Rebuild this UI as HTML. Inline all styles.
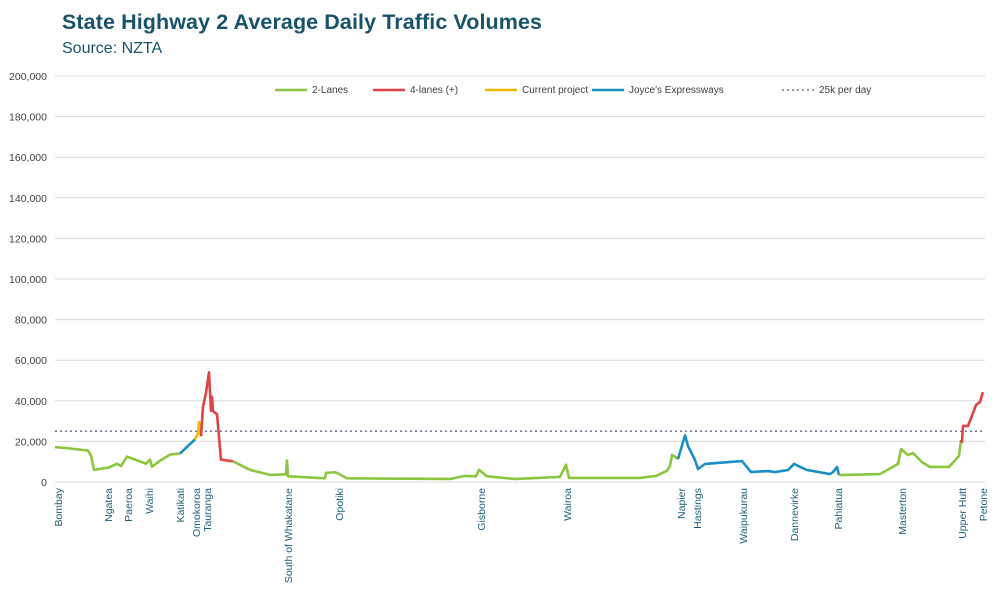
<!DOCTYPE html>
<html><head><meta charset="utf-8"><style>
body{margin:0;background:#fff;font-family:"Liberation Sans",sans-serif;}
svg text{font-family:"Liberation Sans",sans-serif;}
</style></head><body>
<svg id="c" width="1000" height="600">
<text x="62" y="29" font-size="21.5" font-weight="bold" fill="#17536b" textLength="480">State Highway 2 Average Daily Traffic Volumes</text>
<text x="62" y="53" font-size="16" fill="#17536b">Source: NZTA</text>
<g id="grid"></g><g id="lines"></g><g id="xl"></g><g id="legend"></g>
</svg>
<script>
const yTicks=[0,20000,40000,60000,80000,100000,120000,140000,160000,180000,200000];
const threshold=25000;
const townNames=["Bombay","Ngatea","Paeroa","Waihi","Katikati","Omokoroa","Tauranga","South of Whakatane","Opotiki","Gisborne","Wairoa","Napier","Hastings","Waipukurau","Dannevirke","Pahiatua","Masterton","Upper Hutt","Petone"];
const townPos=[3,53,73,94,125,141,152,233,284,426,512,626,642,688,739,783,847,907,928];
const twoLanes1=[[0,17.2],[15,16.5],[33,15.5],[36,13],[39,6],[53,7],[62,9],[66,7.8],[72,12.5],[91,9],[95,11],[97,7.5],[105,10.5],[115,13.5],[125,14]];
const joyce1=[[125,14],[140,21]];
const current1=[[140,21],[143,24],[144,29.5],[146,22.5]];
const four1=[[146,22.5],[148,37],[151,44],[154,54],[156,35],[157,42],[158,35],[160,34],[162,33.5],[166,11],[178,10.2]];
const twoLanes2=[[178,10.2],[195,6],[215,3.5],[231,3.8],[232,10.5],[233,2.8],[245,2.5],[270,1.8],[271,4.5],[280,4.8],[283,4.2],[292,1.8],[395,1.5],[410,3],[421,2.8],[424,6],[432,2.8],[460,1.5],[505,2.5],[511,8.5],[514,2],[585,2],[601,3],[612,5.5],[615,8],[617,13.3],[620,12.5],[623,11.3]];
const joyce2=[[623,11.3],[630,23],[633,17.7],[640,10.8],[643,6.4],[650,8.9],[687,10.3],[696,4.9],[713,5.4],[720,4.9],[733,5.9],[739,8.9],[752,5.9],[775,3.9],[778,4.9],[782,7.4],[784,3.4]];
const twoLanes3=[[784,3.4],[825,3.9],[843,8.9],[846,16.2],[853,13.3],[858,14.3],[867,9.8],[875,7.4],[894,7.4],[904,12.8],[906,20.7]];
const four2=[[906,20.7],[907,19.7],[908,27.6],[913,27.6],[921,37.9],[925,39.4],[928,44.3]];
const X0=55,X1=985,Y0=482,Y1=76;
const xs=v=>X0+v*(X1-X0)/930;
const ys=v=>Y0-v*(Y0-Y1)/200000;
const NS="http://www.w3.org/2000/svg";
function mk(t,a,p){const e=document.createElementNS(NS,t);for(const k in a)e.setAttribute(k,a[k]);p.appendChild(e);return e;}
const grid=document.getElementById('grid');
yTicks.forEach(t=>{
 const l=mk('line',{x1:X0,x2:X1,y1:ys(t),y2:ys(t),stroke:'#d9d9d9','stroke-width':1},grid);
 
 
 const tx=mk('text',{x:47,y:ys(t)+4,'font-size':10.5,fill:'#404040','text-anchor':'end'},grid);
 tx.textContent=t.toLocaleString('en-US');
 
 
});
const th=mk('line',{x1:X0,x2:X1,y1:ys(threshold),y2:ys(threshold),stroke:'#7a6d8f','stroke-width':1.6,'stroke-dasharray':'2 3'},grid);


const lines=document.getElementById('lines');
function series(d,c,n){
 const p=mk('polyline',{points:d.map(q=>xs(q[0])+','+ys(q[1]*1000)).join(' '),fill:'none',stroke:c,'stroke-width':2.6,'stroke-linejoin':'round'},lines);
 
 
}
const G='#8cc63f',R='#e04343',Yc='#f5b800',B='#1a8fc3';
series(twoLanes1,G,'two-lanes-series');series(joyce1,B,'joyce-expressway-series');series(current1,Yc,'current-project-series');series(four1,R,'four-lanes-series');
series(twoLanes2,G,'two-lanes-series');series(joyce2,B,'joyce-expressway-series');series(twoLanes3,G,'two-lanes-series');series(four2,R,'four-lanes-series');
const xl=document.getElementById('xl');
townNames.forEach((n,i)=>{
 const x=xs(townPos[i]);
 const t=mk('text',{x:0,y:0,'font-size':10.5,fill:'#1f5f7a','text-anchor':'end',transform:`translate(${x+4},488) rotate(-90)`},xl);
 t.textContent=n;
 
 
});
const lg=document.getElementById('legend');
const items=[['2-Lanes',G,275,false],['4-lanes (+)',R,373,false],['Current project',Yc,485,false],["Joyce's Expressways",B,592,false],['25k per day','#7a6d8f',782,true]];
items.forEach(it=>{
 const g=mk('g',{},lg);
 
 
 mk('line',{x1:it[2],x2:it[2]+32,y1:90,y2:90,stroke:it[1],'stroke-width':it[3]?1.6:2.6,'stroke-dasharray':it[3]?'2 3':'none'},g);
 const t=mk('text',{x:it[2]+37,y:93,'font-size':10,fill:'#404040'},g);
 t.textContent=it[0];
});
</script>
</body></html>
